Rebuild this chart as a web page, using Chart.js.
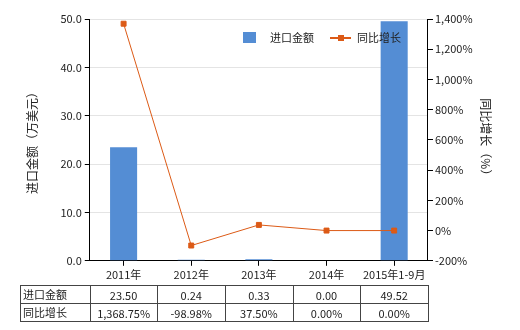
<!DOCTYPE html>
<html>
<head>
<meta charset="utf-8">
<script src="https://cdn.jsdelivr.net/npm/chart.js@4/dist/chart.umd.min.js"></script>
<style>
  body{margin:0;background:#fff;}
  #wrap{width:520px;height:330px;}
</style>
</head>
<body>
<div id="wrap"><canvas id="chart" width="520" height="330"></canvas></div>
<script>
var categories = ["2011年","2012年","2013年","2014年","2015年1-9月"];
var importValue = [23.50, 0.24, 0.33, 0.00, 49.52];
var growthRate = [1368.75, -98.98, 37.50, 0.00, 0.00];
var leftTicks = [0, 10, 20, 30, 40, 50];
var rightTicks = [-200, 0, 200, 400, 600, 800, 1000, 1200, 1400];

var barColor = "#548dd4";
var lineColor = "#dc5a16";
var FONT = "'Noto Sans CJK SC', 'Noto Sans', sans-serif";

function fmtPct(v){
  return v.toLocaleString("en-US",{minimumFractionDigits:2,maximumFractionDigits:2}) + "%";
}

// legend + table below the axis
var extras = {
  id: "extras",
  afterDraw: function(chart){
    var ctx = chart.ctx;
    var xs = chart.scales.x;
    var area = chart.chartArea;
    ctx.save();
    // legend
    ctx.fillStyle = barColor;
    ctx.fillRect(243, 32, 13, 11);
    ctx.font = "11px " + FONT;
    ctx.fillStyle = "#222";
    ctx.textBaseline = "middle";
    ctx.textAlign = "left";
    ctx.fillText("进口金额", 270, 38);
    ctx.strokeStyle = lineColor;
    ctx.lineWidth = 2;
    ctx.beginPath(); ctx.moveTo(330, 38); ctx.lineTo(351, 38); ctx.stroke();
    ctx.fillStyle = lineColor;
    ctx.fillRect(338, 35, 6, 6);
    ctx.fillStyle = "#222";
    ctx.fillText("同比增长", 357, 38);

    // table
    var top = 285, mid = 303, bot = 321, left = 20;
    var right = area.right;
    var step = (area.right - area.left) / categories.length;
    ctx.strokeStyle = "#444";
    ctx.lineWidth = 1;
    ctx.beginPath();
    [top, mid, bot].forEach(function(y){
      ctx.moveTo(left, y + 0.5); ctx.lineTo(right, y + 0.5);
    });
    ctx.moveTo(left + 0.5, top); ctx.lineTo(left + 0.5, bot + 1);
    for (var i = 0; i <= categories.length; i++) {
      var x = Math.round(area.left + step * i) + 0.5;
      ctx.moveTo(x, top); ctx.lineTo(x, bot + 1);
    }
    ctx.stroke();

    ctx.fillStyle = "#222";
    ctx.font = "11px " + FONT;
    ctx.textAlign = "left";
    ctx.fillText("进口金额", 23, (top + mid) / 2 + 1);
    ctx.fillText("同比增长", 23, (mid + bot) / 2 + 1);
    ctx.textAlign = "center";
    for (var j = 0; j < categories.length; j++) {
      var cx = xs.getPixelForValue(j);
      ctx.fillText(importValue[j].toFixed(2), cx, (top + mid) / 2 + 2);
      ctx.fillText(fmtPct(growthRate[j]), cx, (mid + bot) / 2 + 2);
    }
    ctx.restore();
  }
};

new Chart(document.getElementById("chart"), {
  type: "bar",
  data: {
    labels: categories,
    datasets: [{
      type: "line",
      label: "同比增长",
      data: growthRate,
      yAxisID: "y1",
      borderColor: lineColor,
      backgroundColor: lineColor,
      borderWidth: 1,
      pointStyle: "rect",
      pointRadius: 3.5,
      pointHoverRadius: 3.5,
      tension: 0,
      order: 0
    }, {
      label: "进口金额",
      data: importValue,
      yAxisID: "y",
      backgroundColor: barColor,
      barPercentage: 0.4,
      categoryPercentage: 1,
      order: 1
    }]
  },
  options: {
    responsive: false,
    animation: false,
    layout: { padding: { left: 21, right: 9, top: 19, bottom: 47 } },
    plugins: { legend: { display: false }, tooltip: { enabled: false } },
    scales: {
      x: {
        offset: true,
        grid: { offset: false, drawOnChartArea: false, drawTicks: true, tickLength: 5, color: "#000" },
        border: { color: "#000", width: 1 },
        ticks: { color: "#222", font: { family: FONT, size: 11 }, maxRotation: 0, padding: 2 }
      },
      y: {
        position: "left",
        min: 0, max: 50,
        afterBuildTicks: function(s){ s.ticks = leftTicks.map(function(v){ return {value:v}; }); },
        grid: { color: "#e4e4e4", tickLength: 5, tickColor: "#000" },
        border: { color: "#000", width: 1 },
        ticks: { color: "#222", font: { family: FONT, size: 11 }, padding: 3,
          callback: function(v){ return v.toFixed(1); } },
        title: { display: true, text: "进口金额（万美元）", color: "#222", font: { family: FONT, size: 12 }, padding: { bottom: 18 } }
      },
      y1: {
        position: "right",
        min: -200, max: 1400,
        afterBuildTicks: function(s){ s.ticks = rightTicks.map(function(v){ return {value:v}; }); },
        grid: { drawOnChartArea: false, tickLength: 5, color: "#000" },
        border: { color: "#000", width: 1 },
        ticks: { color: "#222", font: { family: FONT, size: 11 }, padding: 2,
          callback: function(v){ return v.toLocaleString("en-US") + "%"; } },
        title: { display: true, text: "同比增长（%）", color: "#222", font: { family: FONT, size: 12 }, padding: { top: 18 } }
      }
    }
  },
  plugins: [extras]
});
</script>
</body>
</html>
